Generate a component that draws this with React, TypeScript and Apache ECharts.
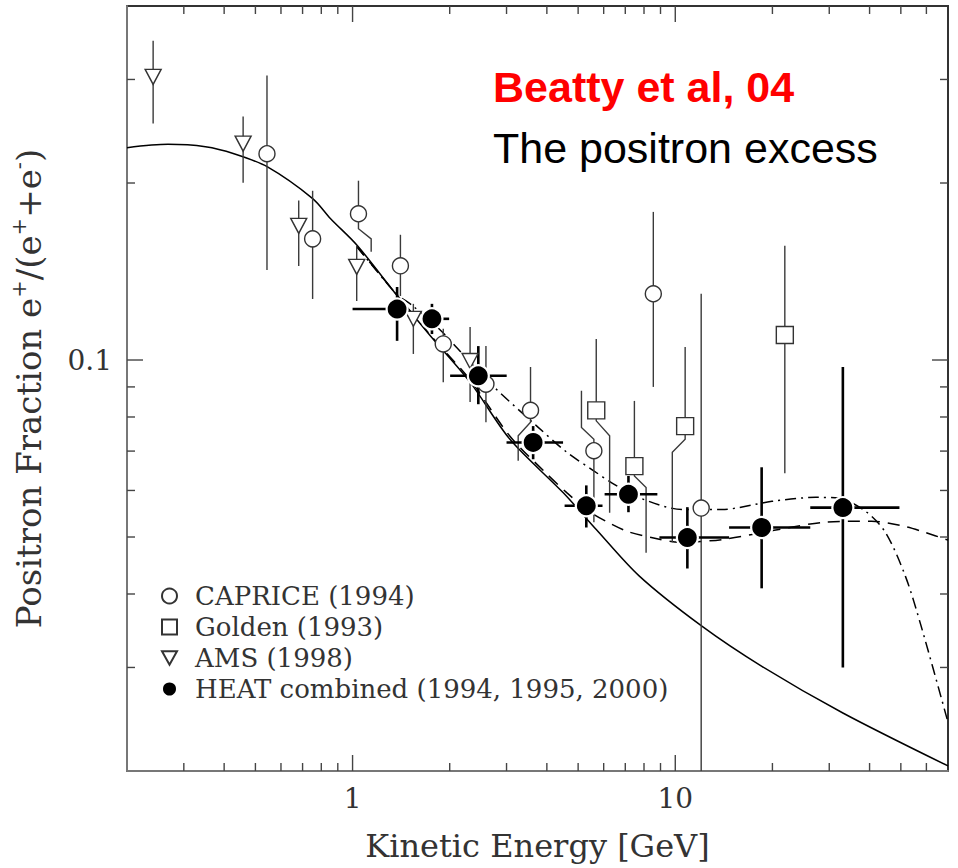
import React, { useEffect, useRef } from 'react';
import * as echarts from 'echarts';

const SERIF = '"DejaVu Serif", "Liberation Serif", serif';
const SANS = '"Liberation Sans", Arial, Helvetica, sans-serif';

// ---- axis ticks / labels ----
const xMajorTicks = [1, 10];
const xMinorTicks = [0.3, 0.4, 0.5, 0.6, 0.7, 0.8, 0.9, 2, 3, 4, 5, 6, 7, 8, 9, 20, 30, 40, 50, 60];
const yMajorTicks = [0.1];
const yMinorTicks = [0.03, 0.04, 0.05, 0.06, 0.07, 0.08, 0.09, 0.2, 0.3];
const xLabelValues = [1, 10];
const yLabelValues = [0.1];

// ---- data: [E (GeV), fraction, lower, upper]  (0 = that side drawn as a displaced leader) ----
const caprice = [
  [0.543, 0.2243, 0.1423, 0.3046],
  [0.752, 0.1607, 0.127, 0.194],
  [1.043, 0.1773, 0, 0.2018],
  [1.407, 0.1446, 0.1285, 0.1633],
  [1.91, 0.1065, 0.0917, 0.113],
  [2.59, 0.091, 0.0784, 0.1056],
  [3.56, 0.0821, 0, 0.0973],
  [5.595, 0.0701, 0.053, 0],
  [8.55, 0.1296, 0.09, 0.1786],
  [12.03, 0.056, 0.02, 0.1296],
];
const golden = [
  [5.69, 0.0821, 0, 0.1086],
  [7.47, 0.066, 0, 0.0852],
  [10.73, 0.0772, 0, 0.1052],
  [21.85, 0.1103, 0.0642, 0.1564],
];
const ams = [
  [0.241, 0.303, 0.2525, 0.349],
  [0.458, 0.2333, 0.2002, 0.2594],
  [0.681, 0.1691, 0.1445, 0.1868],
  [1.03, 0.144, 0.126, 0.1564],
  [1.543, 0.1175, 0.1024, 0.1246],
  [2.313, 0.0996, 0.0848, 0.1138],
];
// HEAT: [E, F, Elo, Ehi, Flo, Fhi]
const heat = [
  [1.374, 0.1221, 1.0, 1.489, 0.1078, 0.1331],
  [1.762, 0.1175, 1.656, 1.992, 0.1107, 0.1246],
  [2.453, 0.094, 2.006, 3.003, 0.0841, 0.1056],
  [3.627, 0.0724, 3.0, 4.49, 0.0678, 0.0772],
  [5.3, 0.0565, 4.54, 5.95, 0.0519, 0.0612],
  [7.16, 0.0591, 6.04, 8.8, 0.0551, 0.0635],
  [10.9, 0.0499, 8.93, 14.68, 0.0442, 0.0562],
  [18.52, 0.0519, 14.68, 26.2, 0.0409, 0.0657],
  [33.06, 0.0561, 26.2, 49.5, 0.03, 0.0973],
];
// displaced (bent) error bars, in data coordinates [E, F]
const leaders = [
  [[1.043, 0.1773], [1.043, 0.1672], [1.142, 0.1607], [1.142, 0.1528]],
  [[3.56, 0.0821], [3.56, 0.0784], [3.26, 0.0743], [3.26, 0.0674]],
  [[5.595, 0.0701], [5.595, 0.0733], [5.12, 0.0768], [5.12, 0.0887]],
  [[5.69, 0.0821], [5.69, 0.0788], [6.26, 0.0743], [6.26, 0.055]],
  [[7.47, 0.066], [7.47, 0.0635], [8.12, 0.0607], [8.12, 0.047]],
  [[10.73, 0.0772], [10.73, 0.0733], [9.79, 0.0697], [9.79, 0.049]],
];

// ---- model curves ----
const secondaryE = [0.2, 0.268, 0.35, 0.429, 0.545, 0.754, 0.855, 1.034, 1.374, 1.741, 2.313, 3.074, 4.49, 5.69, 7.74, 12.06, 18.6, 33.06, 70];
const secondaryF = [0.2297, 0.2327, 0.2305, 0.2243, 0.213, 0.188, 0.1739, 0.1566, 0.1287, 0.11, 0.0917, 0.0733, 0.0595, 0.0515, 0.0429, 0.0353, 0.0301, 0.0251, 0.0204];
const dashE = [1.03, 1.377, 1.741, 2.313, 3.074, 3.942, 4.609, 5.427, 6.166, 7.11, 8.43, 10.29, 13.96, 20.94, 29.24, 40.55, 51.64, 59.5, 70];
const dashF = [0.156, 0.1287, 0.1103, 0.0925, 0.0742, 0.0645, 0.0595, 0.0552, 0.053, 0.0511, 0.0499, 0.049, 0.0495, 0.0515, 0.053, 0.0532, 0.0521, 0.0509, 0.0494];
const dotDashE = [1.03, 1.153, 1.367, 1.531, 1.869, 2.109, 2.724, 3.724, 4.609, 5.544, 6.391, 7.743, 10.51, 13.96, 19.93, 27.24, 32.08, 38.86, 44.8, 51.64, 57.85, 70];
const dotDashF = [0.156, 0.1446, 0.1296, 0.1238, 0.1125, 0.1048, 0.0903, 0.0772, 0.0697, 0.065, 0.0617, 0.0583, 0.0557, 0.0557, 0.0575, 0.0584, 0.0582, 0.0553, 0.0509, 0.0429, 0.0352, 0.0242];

const zip = (a: number[], b: number[]) => a.map((v, i) => [v, b[i]]);
const near = (v: number, arr: number[]) => arr.some((a) => Math.abs(v / a - 1) < 1e-6);

const BAR = { stroke: '#3a3a3a', lineWidth: 1.4 };
const SYM_BORDER = '#333';

function openBars(name: string, data: number[][]) {
  return {
    type: 'custom',
    name,
    coordinateSystem: 'cartesian2d',
    silent: true,
    z: 3,
    encode: { x: 0, y: 1 },
    data,
    renderItem: (params: any, api: any) => {
      const e = api.value(0);
      const f = api.value(1);
      const lo = api.value(2);
      const hi = api.value(3);
      const c = api.coord([e, f]);
      const children: any[] = [];
      if (hi > 0) {
        const p = api.coord([e, hi]);
        children.push({ type: 'line', shape: { x1: c[0], y1: c[1], x2: p[0], y2: p[1] }, style: BAR });
      }
      if (lo > 0) {
        const p = api.coord([e, lo]);
        children.push({ type: 'line', shape: { x1: c[0], y1: c[1], x2: p[0], y2: p[1] }, style: BAR });
      }
      return { type: 'group', children };
    },
  };
}

function tickSeries(isX: boolean) {
  const data = isX
    ? [...xMajorTicks.map((v) => [v, 0.1, 1]), ...xMinorTicks.map((v) => [v, 0.1, 0])]
    : [...yMajorTicks.map((v) => [1, v, 1]), ...yMinorTicks.map((v) => [1, v, 0])];
  return {
    type: 'custom',
    name: isX ? 'xticks' : 'yticks',
    coordinateSystem: 'cartesian2d',
    silent: true,
    z: 6,
    encode: { x: 0, y: 1 },
    data,
    renderItem: (params: any, api: any) => {
      const cs = params.coordSys;
      const major = api.value(2) === 1;
      const len = major ? 16 : 8;
      const st = { stroke: '#444', lineWidth: 1.4 };
      const p = api.coord([api.value(0), api.value(1)]);
      if (isX) {
        const x = p[0];
        const b = cs.y + cs.height;
        return {
          type: 'group',
          children: [
            { type: 'line', shape: { x1: x, y1: b, x2: x, y2: b - len }, style: st },
            { type: 'line', shape: { x1: x, y1: cs.y, x2: x, y2: cs.y + len }, style: st },
          ],
        };
      }
      const y = p[1];
      const r = cs.x + cs.width;
      return {
        type: 'group',
        children: [
          { type: 'line', shape: { x1: cs.x, y1: y, x2: cs.x + len, y2: y }, style: st },
          { type: 'line', shape: { x1: r, y1: y, x2: r - len, y2: y }, style: st },
        ],
      };
    },
  };
}

function buildOption() {
  return {
    animation: false,
    backgroundColor: '#ffffff',
    grid: { left: 127, top: 6, width: 821, height: 765, show: true, borderColor: '#333', borderWidth: 2 },
    xAxis: {
      type: 'log',
      logBase: 10,
      min: 0.2,
      max: 70,
      name: 'Kinetic Energy [GeV]',
      nameLocation: 'middle',
      nameGap: 59,
      nameTextStyle: { fontFamily: SERIF, fontSize: 32, color: '#333' },
      axisLine: { show: true, lineStyle: { color: '#777', width: 2 } },
      axisTick: { show: false },
      splitLine: { show: false },
      minorTick: { show: false },
      axisLabel: {
        fontFamily: SERIF,
        fontSize: 28,
        color: '#333',
        margin: 13,
        formatter: (v: number) => (near(v, xLabelValues) ? String(+v.toPrecision(6)) : ''),
      },
    },
    yAxis: {
      type: 'log',
      logBase: 10,
      min: 0.02,
      max: 0.4,
      name: 'Positron Fraction e{sup|+}/(e{sup|+}+e{sup|-})',
      nameLocation: 'middle',
      nameGap: 77,
      nameRotate: 90,
      nameTextStyle: {
        fontFamily: SERIF,
        fontSize: 34,
        lineHeight: 42,
        color: '#333',
        rich: {
          sup: { fontFamily: SERIF, fontSize: 21, lineHeight: 19, verticalAlign: 'top', color: '#333' },
        },
      },
      axisLine: { show: true, lineStyle: { color: '#777', width: 2 } },
      axisTick: { show: false },
      splitLine: { show: false },
      minorTick: { show: false },
      axisLabel: {
        fontFamily: SERIF,
        fontSize: 28,
        color: '#333',
        margin: 15,
        formatter: (v: number) => (near(v, yLabelValues) ? String(+v.toPrecision(6)) : ''),
      },
    },
    legend: {
      orient: 'vertical',
      left: 156,
      top: 578,
      itemWidth: 15,
      itemHeight: 15,
      itemGap: 5,
      selectedMode: false,
      data: ['CAPRICE (1994)', 'Golden (1993)', 'AMS (1998)', 'HEAT combined (1994, 1995, 2000)'],
      textStyle: { fontFamily: SERIF, fontSize: 26, lineHeight: 26, color: '#333', padding: [0, 0, 0, 13] },
    },
    graphic: [
      {
        type: 'text',
        x: 493,
        y: 87,
        silent: true,
        style: { text: 'Beatty et al, 04', fill: '#ff0000', font: `bold 43px ${SANS}`, textAlign: 'left', textVerticalAlign: 'middle' },
      },
      {
        type: 'text',
        x: 493,
        y: 148,
        silent: true,
        style: { text: 'The positron excess', fill: '#000', font: `43px ${SANS}`, textAlign: 'left', textVerticalAlign: 'middle' },
      },
    ],
    series: [
      {
        type: 'line',
        name: 'Secondary production',
        data: zip(secondaryE, secondaryF),
        showSymbol: false,
        symbol: 'none',
        smooth: 0.3,
        silent: true,
        z: 2,
        lineStyle: { color: '#000', width: 1.5 },
      },
      {
        type: 'line',
        name: 'Model (dashed)',
        data: zip(dashE, dashF),
        symbol: 'none',
        smooth: 0.3,
        silent: true,
        z: 2,
        lineStyle: { color: '#000', width: 1.5, type: [12, 8] },
      },
      {
        type: 'line',
        name: 'Model (dash-dot)',
        data: zip(dotDashE, dotDashF),
        symbol: 'none',
        smooth: 0.3,
        silent: true,
        z: 2,
        lineStyle: { color: '#000', width: 1.5, type: [11, 5, 2, 5] },
      },
      tickSeries(true),
      tickSeries(false),
      openBars('CAPRICE bars', caprice),
      openBars('Golden bars', golden),
      openBars('AMS bars', ams),
      {
        type: 'custom',
        name: 'Displaced bars',
        coordinateSystem: 'cartesian2d',
        silent: true,
        z: 3,
        encode: { x: 0, y: 1 },
        data: leaders.map((l, i) => [l[0][0], l[0][1], i]),
        renderItem: (params: any, api: any) => {
          const path = leaders[api.value(2)];
          return {
            type: 'polyline',
            shape: { points: path.map((p) => api.coord(p)) },
            style: { ...BAR, fill: null },
          };
        },
      },
      {
        type: 'custom',
        name: 'HEAT bars',
        coordinateSystem: 'cartesian2d',
        silent: true,
        z: 3,
        encode: { x: 0, y: 1 },
        data: heat,
        renderItem: (params: any, api: any) => {
          const e = api.value(0);
          const f = api.value(1);
          const st = { stroke: '#000', lineWidth: 2.6 };
          const l = api.coord([api.value(2), f]);
          const r = api.coord([api.value(3), f]);
          const b = api.coord([e, api.value(4)]);
          const t = api.coord([e, api.value(5)]);
          return {
            type: 'group',
            children: [
              { type: 'line', shape: { x1: l[0], y1: l[1], x2: r[0], y2: r[1] }, style: st },
              { type: 'line', shape: { x1: b[0], y1: b[1], x2: t[0], y2: t[1] }, style: st },
            ],
          };
        },
      },
      {
        type: 'scatter',
        name: 'CAPRICE (1994)',
        data: caprice.map((d) => [d[0], d[1]]),
        symbol: 'circle',
        symbolSize: 16,
        z: 5,
        itemStyle: { color: '#fff', borderColor: SYM_BORDER, borderWidth: 1.4, opacity: 1 },
      },
      {
        type: 'scatter',
        name: 'Golden (1993)',
        data: golden.map((d) => [d[0], d[1]]),
        symbol: 'rect',
        symbolSize: 17,
        z: 5,
        itemStyle: { color: '#fff', borderColor: SYM_BORDER, borderWidth: 1.4, opacity: 1 },
      },
      {
        type: 'scatter',
        name: 'AMS (1998)',
        data: ams.map((d) => [d[0], d[1]]),
        symbol: 'path://M0,0L20,0L10,18Z',
        symbolSize: [16, 15],
        z: 5,
        itemStyle: { color: '#fff', borderColor: SYM_BORDER, borderWidth: 1.4, opacity: 1 },
      },
      {
        type: 'scatter',
        name: 'HEAT combined (1994, 1995, 2000)',
        data: heat.map((d) => [d[0], d[1]]),
        symbol: 'circle',
        symbolSize: 21,
        z: 5,
        itemStyle: { color: '#000', borderColor: '#fff', borderWidth: 2.2, opacity: 1 },
      },
    ],
  };
}

export default function App() {
  const ref = useRef<HTMLDivElement>(null);
  useEffect(() => {
    if (!ref.current) return;
    const chart = echarts.init(ref.current, undefined, { renderer: 'svg' });
    chart.setOption(buildOption() as any);
    return () => chart.dispose();
  }, []);
  return (
    <div
      ref={ref}
      style={{ position: 'absolute', left: 0, top: 0, width: 958, height: 868, background: '#fff' }}
    />
  );
}
